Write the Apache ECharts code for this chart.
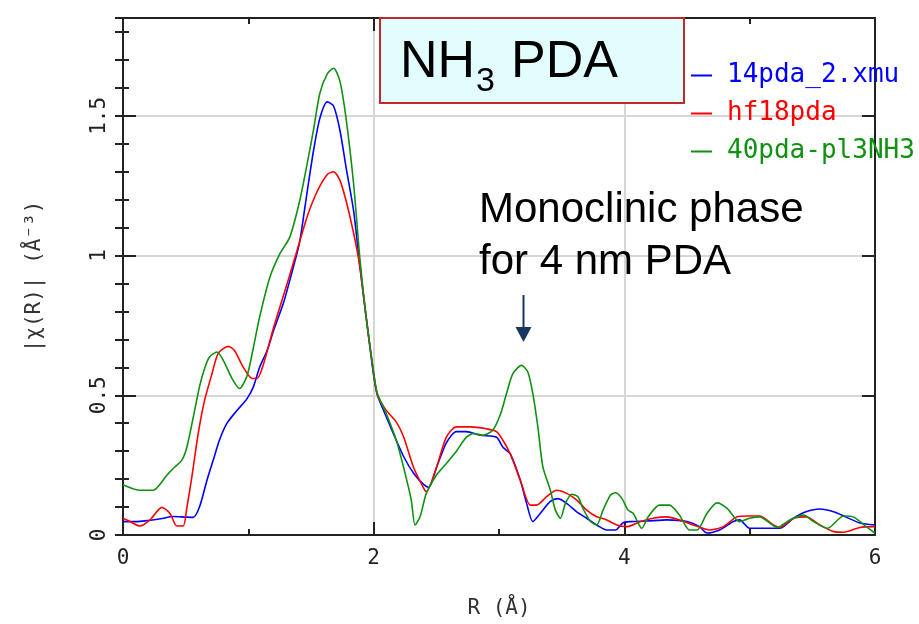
<!DOCTYPE html>
<html>
<head>
<meta charset="utf-8">
<script src="https://cdn.jsdelivr.net/npm/echarts@6/dist/echarts.min.js"></script>
<style>
html,body{margin:0;padding:0;background:#fff;}
#chart{width:919px;height:624px;}
</style>
</head>
<body>
<div id="chart"></div>
<script>
// ---- data (R in Å, |chi(R)| in Å^-3) ----
const seriesNames = ['14pda_2.xmu', 'hf18pda', '40pda-pl3NH3'];
const seriesColors = ['#0000ff', '#ff0000', '#119111'];

const R_blue = [0, 0.1, 0.2, 0.3, 0.4, 0.5, 0.56, 0.61, 0.67, 0.72, 0.77, 0.83, 0.91, 0.99, 1.04, 1.09, 1.15, 1.2, 1.28, 1.36, 1.41, 1.47, 1.52, 1.57, 1.63, 1.68, 1.73, 1.78, 1.84, 1.89, 1.94, 2.0, 2.03, 2.08, 2.16, 2.24, 2.32, 2.4, 2.44, 2.5, 2.58, 2.66, 2.74, 2.85, 2.98, 3.03, 3.09, 3.17, 3.22, 3.27, 3.33, 3.41, 3.47, 3.54, 3.62, 3.7, 3.78, 3.86, 3.93, 3.99, 4.05, 4.18, 4.34, 4.5, 4.6, 4.66, 4.76, 4.87, 4.92, 5.0, 5.14, 5.24, 5.35, 5.45, 5.56, 5.67, 5.77, 5.88, 6.0];
const V_blue = [0.048, 0.048, 0.052, 0.058, 0.066, 0.064, 0.063, 0.10, 0.196, 0.268, 0.34, 0.40, 0.446, 0.488, 0.53, 0.60, 0.66, 0.73, 0.83, 0.96, 1.05, 1.23, 1.375, 1.49, 1.55, 1.535, 1.45, 1.315, 1.16, 0.96, 0.78, 0.57, 0.50, 0.445, 0.36, 0.28, 0.22, 0.18, 0.17, 0.24, 0.33, 0.37, 0.37, 0.357, 0.35, 0.315, 0.29, 0.196, 0.114, 0.048, 0.078, 0.12, 0.13, 0.113, 0.083, 0.06, 0.036, 0.018, 0.018, 0.044, 0.048, 0.05, 0.054, 0.048, 0.03, 0.007, 0.018, 0.048, 0.054, 0.024, 0.024, 0.024, 0.06, 0.083, 0.093, 0.083, 0.064, 0.043, 0.036];

const R_red = [0, 0.056, 0.136, 0.215, 0.31, 0.375, 0.43, 0.48, 0.51, 0.55, 0.60, 0.65, 0.71, 0.76, 0.84, 0.89, 0.96, 1.03, 1.07, 1.12, 1.2, 1.31, 1.39, 1.47, 1.55, 1.63, 1.68, 1.73, 1.78, 1.84, 1.89, 1.94, 2.0, 2.03, 2.1, 2.18, 2.24, 2.32, 2.4, 2.42, 2.5, 2.58, 2.66, 2.77, 2.9, 2.98, 3.03, 3.09, 3.17, 3.25, 3.3, 3.38, 3.46, 3.54, 3.62, 3.7, 3.78, 3.86, 3.94, 4.02, 4.13, 4.23, 4.34, 4.44, 4.55, 4.68, 4.79, 4.9, 4.98, 5.08, 5.19, 5.24, 5.35, 5.45, 5.56, 5.67, 5.75, 5.88, 6.0];
const V_red = [0.06, 0.048, 0.032, 0.054, 0.099, 0.077, 0.032, 0.032, 0.10, 0.21, 0.363, 0.48, 0.577, 0.65, 0.675, 0.66, 0.60, 0.56, 0.56, 0.61, 0.74, 0.90, 1.02, 1.14, 1.23, 1.29, 1.30, 1.27, 1.196, 1.08, 0.96, 0.78, 0.58, 0.50, 0.446, 0.405, 0.35, 0.24, 0.167, 0.155, 0.24, 0.35, 0.387, 0.387, 0.38, 0.37, 0.34, 0.29, 0.196, 0.107, 0.107, 0.137, 0.16, 0.149, 0.125, 0.089, 0.065, 0.054, 0.036, 0.03, 0.048, 0.06, 0.065, 0.054, 0.036, 0.018, 0.03, 0.065, 0.068, 0.068, 0.036, 0.027, 0.06, 0.065, 0.036, 0.012, 0.01, 0.027, 0.03];

const R_green = [0, 0.136, 0.24, 0.35, 0.40, 0.47, 0.51, 0.56, 0.61, 0.654, 0.69, 0.75, 0.80, 0.87, 0.93, 0.99, 1.04, 1.09, 1.17, 1.25, 1.33, 1.41, 1.47, 1.52, 1.57, 1.63, 1.68, 1.73, 1.78, 1.84, 1.89, 1.94, 2.0, 2.03, 2.10, 2.18, 2.24, 2.30, 2.33, 2.37, 2.42, 2.50, 2.58, 2.66, 2.74, 2.80, 2.87, 2.95, 3.01, 3.06, 3.11, 3.18, 3.23, 3.27, 3.31, 3.35, 3.41, 3.45, 3.49, 3.53, 3.58, 3.63, 3.67, 3.73, 3.78, 3.83, 3.89, 3.93, 3.98, 4.03, 4.07, 4.14, 4.19, 4.28, 4.36, 4.44, 4.52, 4.58, 4.66, 4.74, 4.82, 4.92, 5.0, 5.08, 5.22, 5.32, 5.43, 5.51, 5.62, 5.75, 5.83, 5.93, 6.0];
const V_green = [0.18, 0.16, 0.16, 0.214, 0.238, 0.268, 0.315, 0.42, 0.53, 0.60, 0.637, 0.655, 0.625, 0.56, 0.524, 0.57, 0.67, 0.78, 0.92, 1.005, 1.065, 1.196, 1.33, 1.45, 1.58, 1.65, 1.67, 1.625, 1.49, 1.256, 0.99, 0.78, 0.58, 0.506, 0.435, 0.34, 0.24, 0.125, 0.036, 0.065, 0.149, 0.214, 0.256, 0.30, 0.35, 0.363, 0.357, 0.375, 0.43, 0.506, 0.577, 0.607, 0.583, 0.506, 0.387, 0.244, 0.16, 0.089, 0.06, 0.113, 0.146, 0.137, 0.095, 0.048, 0.036, 0.089, 0.143, 0.151, 0.131, 0.089, 0.078, 0.024, 0.065, 0.107, 0.107, 0.071, 0.018, 0.018, 0.078, 0.115, 0.095, 0.048, 0.06, 0.065, 0.027, 0.054, 0.071, 0.048, 0.024, 0.068, 0.064, 0.03, 0.006];

const xTicks = { min: 0, max: 6, interval: 2 };
const yTicks = { min: 0, max: 1.85, interval: 0.5, minorInterval: 0.1 };

const xName = 'R (Å)';
const yName = '|χ(R)| (Å⁻³)';
const boxTitle = ['NH', '3', 'PDA'];
const noteLines = ['Monoclinic phase', 'for 4 nm PDA'];

// ---- chart ----
const zip = (xs, ys) => xs.map((x, i) => [x, ys[i]]);
const seriesData = [zip(R_blue, V_blue), zip(R_red, V_red), zip(R_green, V_green)];

const AX = '#222';
const MONO = '"DejaVu Sans Mono", monospace';
const SANS = '"Liberation Sans", Arial, sans-serif';
const tickStyle = { color: AX, width: 2 };

const chart = echarts.init(document.getElementById('chart'), null, { renderer: 'canvas' });

const option = {
  backgroundColor: '#ffffff',
  animation: false,
  grid: { left: 123, right: 44, top: 18, bottom: 89, containLabel: false },
  xAxis: [
    {
      type: 'value', position: 'bottom',
      min: xTicks.min, max: xTicks.max, interval: xTicks.interval,
      name: xName, nameLocation: 'middle', nameGap: 63,
      nameTextStyle: { fontFamily: MONO, fontSize: 21, color: '#333' },
      axisLine: { show: true, onZero: false, lineStyle: { color: AX, width: 2 } },
      axisTick: { show: true, inside: true, length: 13, lineStyle: tickStyle },
      minorTick: { show: true, splitNumber: 2, length: 6, lineStyle: tickStyle },
      axisLabel: { fontFamily: MONO, fontSize: 21, color: '#222', margin: 13 },
      splitLine: { show: true, lineStyle: { color: '#d6d6d6', width: 2 } }
    },
    {
      type: 'value', position: 'top',
      min: xTicks.min, max: xTicks.max, interval: xTicks.interval,
      axisLine: { show: true, onZero: false, lineStyle: { color: AX, width: 2 } },
      axisTick: { show: true, inside: true, length: 13, lineStyle: tickStyle },
      minorTick: { show: true, splitNumber: 2, length: 6, lineStyle: tickStyle },
      axisLabel: { show: false },
      splitLine: { show: false }
    }
  ],
  yAxis: [
    {
      type: 'value', position: 'left',
      min: yTicks.min, max: yTicks.max, interval: yTicks.interval,
      name: yName, nameLocation: 'middle', nameGap: 78,
      nameTextStyle: { fontFamily: MONO, fontSize: 21, color: '#333' },
      axisLine: { show: true, onZero: false, lineStyle: { color: AX, width: 2 } },
      axisTick: { show: true, inside: true, length: 13, lineStyle: tickStyle },
      axisLabel: { fontFamily: MONO, fontSize: 21, color: '#222', rotate: 90, margin: 13, showMaxLabel: false },
      splitLine: { show: true, lineStyle: { color: '#d6d6d6', width: 2 } }
    },
    {
      type: 'value', position: 'left',
      min: yTicks.min, max: yTicks.max, interval: yTicks.minorInterval,
      axisLine: { show: false },
      axisTick: { show: true, inside: true, length: 6, lineStyle: tickStyle },
      axisLabel: { show: false },
      splitLine: { show: false }
    },
    {
      type: 'value', position: 'right',
      min: yTicks.min, max: yTicks.max, interval: yTicks.interval,
      axisLine: { show: true, onZero: false, lineStyle: { color: AX, width: 2 } },
      axisTick: { show: true, inside: true, length: 13, lineStyle: tickStyle },
      axisLabel: { show: false },
      splitLine: { show: false }
    },
    {
      type: 'value', position: 'right',
      min: yTicks.min, max: yTicks.max, interval: yTicks.minorInterval,
      axisLine: { show: false },
      axisTick: { show: true, inside: true, length: 8, lineStyle: tickStyle },
      axisLabel: { show: false },
      splitLine: { show: false }
    }
  ],
  legend: {
    orient: 'vertical',
    left: 686, top: 57,
    itemWidth: 21, itemHeight: 2, itemGap: 11,
    icon: 'rect',
    selectedMode: false,
    data: seriesNames.map((n, i) => ({
      name: n,
      textStyle: { color: seriesColors[i] }
    })),
    textStyle: { fontFamily: MONO, fontSize: 26, lineHeight: 27, padding: [0, 0, 0, 10] }
  },
  series: seriesNames.map((n, i) => ({
    name: n,
    type: 'line',
    xAxisIndex: 0,
    yAxisIndex: 0,
    data: seriesData[i],
    showSymbol: false,
    symbol: 'none',
    smooth: 0.25,
    color: seriesColors[i],
    lineStyle: { color: seriesColors[i], width: 1.6 },
    z: 3
  })),
  graphic: [
    {
      type: 'rect', z: 10,
      shape: { x: 380, y: 18, width: 304, height: 85 },
      style: { fill: '#e2fdfd', stroke: '#c0282a', lineWidth: 2 }
    },
    {
      type: 'text', z: 11, x: 400, y: 63,
      style: { text: boxTitle[0], font: '52px ' + SANS, fill: '#000', verticalAlign: 'middle', align: 'left' }
    },
    {
      type: 'text', z: 11, x: 476, y: 82,
      style: { text: boxTitle[1], font: '34px ' + SANS, fill: '#000', verticalAlign: 'middle', align: 'left' }
    },
    {
      type: 'text', z: 11, x: 511, y: 63,
      style: { text: boxTitle[2], font: '52px ' + SANS, fill: '#000', verticalAlign: 'middle', align: 'left' }
    },
    {
      type: 'text', z: 11, x: 479, y: 210,
      style: { text: noteLines[0], font: '42px ' + SANS, fill: '#000', verticalAlign: 'middle', align: 'left' }
    },
    {
      type: 'text', z: 11, x: 479, y: 262,
      style: { text: noteLines[1], font: '42px ' + SANS, fill: '#000', verticalAlign: 'middle', align: 'left' }
    },
    {
      type: 'line', z: 11,
      shape: { x1: 523.5, y1: 295, x2: 523.5, y2: 330 },
      style: { stroke: '#17375e', lineWidth: 2 }
    },
    {
      type: 'polygon', z: 11,
      shape: { points: [[515.5, 327], [531.5, 327], [523.5, 342]] },
      style: { fill: '#17375e' }
    }
  ]
};

chart.setOption(option);
</script>
</body>
</html>
